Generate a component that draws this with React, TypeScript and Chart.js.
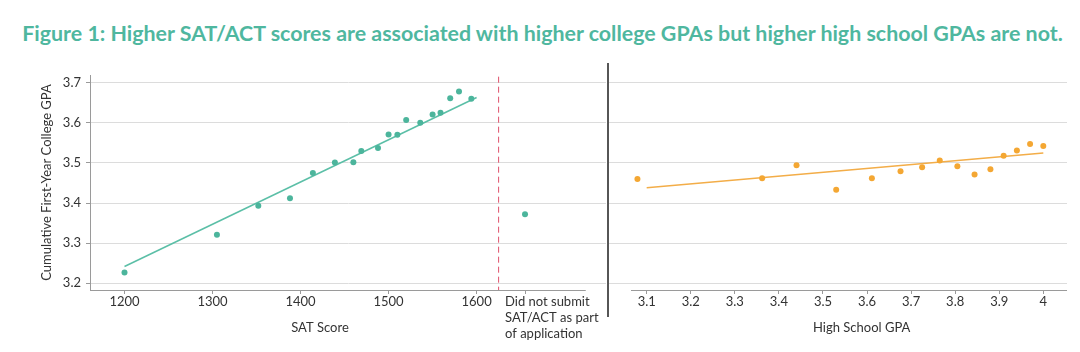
import React, { useEffect, useRef } from "react";
import { Chart, registerables } from "chart.js";

Chart.register(...registerables);

// ---------- data ----------
const satScores = [1200, 1305, 1352, 1388, 1414, 1439, 1460, 1469, 1488, 1500, 1510, 1520, 1536, 1550, 1559, 1570, 1580, 1594];
const satCollegeGpa = [3.227, 3.321, 3.393, 3.412, 3.475, 3.501, 3.502, 3.530, 3.537, 3.571, 3.570, 3.607, 3.600, 3.621, 3.625, 3.661, 3.678, 3.660];
const satTrendX = [1200, 1600];
const satTrendY = [3.242, 3.663];
const noSubmitX = 1655;
const noSubmitGpa = 3.372;
const dividerSat = 1625;
const satTicks = [1200, 1300, 1400, 1500, 1600];
const noSubmitLabel = ["Did not submit", "SAT/ACT as part", "of application"];

const hsGpa = [3.079, 3.362, 3.440, 3.530, 3.611, 3.676, 3.725, 3.765, 3.805, 3.844, 3.880, 3.910, 3.940, 3.970, 4.000];
const hsCollegeGpa = [3.460, 3.462, 3.494, 3.433, 3.462, 3.479, 3.489, 3.506, 3.492, 3.471, 3.484, 3.518, 3.531, 3.547, 3.542];
const hsTrendX = [3.1, 4.0];
const hsTrendY = [3.438, 3.525];
const hsTicks = [3.1, 3.2, 3.3, 3.4, 3.5, 3.6, 3.7, 3.8, 3.9, 4.0];
const gpaTicks = [3.2, 3.3, 3.4, 3.5, 3.6, 3.7];

const titleText = "Figure 1: Higher SAT/ACT scores are associated with higher college GPAs but higher high school GPAs are not.";
const yTitle = "Cumulative First-Year College GPA";
const satTitle = "SAT Score";
const hsTitle = "High School GPA";

// ---------- styles ----------
const FONT = "Lato, 'Open Sans', sans-serif";
const FS = 13;
const TEAL = "#4cb59c";
const TEAL_LINE = "#5bbfa7";
const ORANGE = "#f4a733";
const ORANGE_LINE = "#f3ad48";
const RED = "#e0506a";
const GRID = "#dcdcdc";
const AXIS = "#9a9a9a";
const TEXT = "#333333";
const Y_MIN = 3.1833;
const Y_MAX = 3.7192;

const yScaleBase = {
  type: "linear" as const,
  min: Y_MIN,
  max: Y_MAX,
  afterBuildTicks: (ax: any) => {
    ax.ticks = gpaTicks.map((v) => ({ value: v }));
  },
};

function makeLeft(canvas: HTMLCanvasElement) {
  const leftPlugin = {
    id: "leftExtras",
    afterDraw(chart: any) {
      const { ctx, chartArea, scales } = chart;
      const x = scales.x;
      ctx.save();
      // x axis line
      ctx.strokeStyle = AXIS;
      ctx.lineWidth = 1;
      ctx.beginPath();
      ctx.moveTo(chartArea.left, chartArea.bottom + 0.5);
      ctx.lineTo(x.getPixelForValue(1724), chartArea.bottom + 0.5);
      ctx.stroke();
      // no-submit label
      ctx.fillStyle = TEXT;
      ctx.font = `${FS}px ${FONT}`;
      ctx.textAlign = "left";
      ctx.textBaseline = "middle";
      const lx = x.getPixelForValue(noSubmitX) - 20;
      noSubmitLabel.forEach((t, i) => ctx.fillText(t, lx, 302 + i * 16));
      // x title
      ctx.textAlign = "center";
      ctx.fillText(satTitle, 320, 328);
      ctx.restore();
    },
  };

  return new Chart(canvas, {
    type: "scatter",
    data: {
      datasets: [
        {
          label: "SAT",
          data: satScores.map((s, i) => ({ x: s, y: satCollegeGpa[i] })),
          backgroundColor: TEAL,
          borderColor: TEAL,
          pointRadius: 3,
          borderWidth: 0,
          order: 0,
        },
        {
          label: "No submit",
          data: [{ x: noSubmitX, y: noSubmitGpa }],
          backgroundColor: TEAL,
          borderColor: TEAL,
          pointRadius: 3,
          borderWidth: 0,
          order: 0,
        },
        {
          label: "Trend",
          data: satTrendX.map((s, i) => ({ x: s, y: satTrendY[i] })),
          showLine: true,
          borderColor: TEAL_LINE,
          borderWidth: 1.5,
          pointRadius: 0,
          order: 1,
        },
        {
          label: "Divider",
          data: [
            { x: dividerSat, y: 3.715 },
            { x: dividerSat, y: 3.181 },
          ],
          showLine: true,
          borderColor: RED,
          borderWidth: 1,
          borderDash: [6, 4],
          pointRadius: 0,
          clip: false,
          order: 2,
        },
      ],
    },
    options: {
      animation: false,
      responsive: false,
      maintainAspectRatio: false,
      layout: { padding: { top: 75, right: 4, left: 0, bottom: 0 } },
      plugins: { legend: { display: false }, tooltip: { enabled: false } },
      scales: {
        x: {
          type: "linear",
          min: 1160.8,
          max: 1747,
          afterBuildTicks: (ax: any) => {
            ax.ticks = [...satTicks, noSubmitX].map((v) => ({ value: v }));
          },
          afterFit: (s: any) => {
            s.height = 62;
          },
          ticks: {
            callback: (v: any) => (v === noSubmitX ? "" : String(v)),
            font: { family: FONT, size: FS },
            color: TEXT,
            padding: 0,
            maxRotation: 0,
            autoSkip: false,
          },
          grid: { drawOnChartArea: false, drawTicks: true, tickLength: 4, tickColor: AXIS },
          border: { display: false },
        },
        y: {
          ...yScaleBase,
          afterFit: (s: any) => {
            s.width = 90;
          },
          ticks: {
            callback: (v: any) => Number(v).toFixed(1),
            font: { family: FONT, size: FS },
            color: TEXT,
            padding: 5,
          },
          grid: { color: GRID, lineWidth: 1, tickColor: AXIS, tickLength: 4 },
          border: { display: true, color: AXIS, width: 1 },
          title: {
            display: true,
            text: yTitle,
            font: { family: FONT, size: FS },
            color: TEXT,
            padding: { top: 39, bottom: 0 },
          },
        },
      },
    },
    plugins: [leftPlugin],
  } as any);
}

function makeRight(canvas: HTMLCanvasElement) {
  const rightPlugin = {
    id: "rightExtras",
    afterDraw(chart: any) {
      const { ctx, chartArea, scales } = chart;
      const x = scales.x;
      ctx.save();
      ctx.strokeStyle = AXIS;
      ctx.lineWidth = 1;
      ctx.beginPath();
      ctx.moveTo(x.getPixelForValue(3.0644), chartArea.bottom + 0.5);
      ctx.lineTo(chartArea.right, chartArea.bottom + 0.5);
      ctx.stroke();
      // black separator
      ctx.strokeStyle = "#1e1e1e";
      ctx.lineWidth = 1.5;
      ctx.beginPath();
      ctx.moveTo(chartArea.left - 1, 63);
      ctx.lineTo(chartArea.left - 1, 317);
      ctx.stroke();
      // x title
      ctx.fillStyle = TEXT;
      ctx.font = `${FS}px ${FONT}`;
      ctx.textAlign = "center";
      ctx.textBaseline = "middle";
      ctx.fillText(hsTitle, 261.7, 328);
      ctx.restore();
    },
  };

  return new Chart(canvas, {
    type: "scatter",
    data: {
      datasets: [
        {
          label: "HS GPA",
          data: hsGpa.map((g, i) => ({ x: g, y: hsCollegeGpa[i] })),
          backgroundColor: ORANGE,
          borderColor: ORANGE,
          pointRadius: 3,
          borderWidth: 0,
          order: 0,
        },
        {
          label: "Trend",
          data: hsTrendX.map((g, i) => ({ x: g, y: hsTrendY[i] })),
          showLine: true,
          borderColor: ORANGE_LINE,
          borderWidth: 1.5,
          pointRadius: 0,
          order: 1,
        },
      ],
    },
    options: {
      animation: false,
      responsive: false,
      maintainAspectRatio: false,
      layout: { padding: { top: 75, right: 13, left: 0, bottom: 0 } },
      plugins: { legend: { display: false }, tooltip: { enabled: false } },
      scales: {
        x: {
          type: "linear",
          min: 3.01445,
          max: 4.05378,
          afterBuildTicks: (ax: any) => {
            ax.ticks = hsTicks.map((v) => ({ value: v }));
          },
          afterFit: (s: any) => {
            s.height = 62;
          },
          ticks: {
            callback: (v: any) => String(Number(Number(v).toFixed(1))),
            font: { family: FONT, size: FS },
            color: TEXT,
            padding: 0,
            maxRotation: 0,
            autoSkip: false,
          },
          grid: { drawOnChartArea: false, drawTicks: true, tickLength: 4, tickColor: AXIS },
          border: { display: false },
        },
        y: {
          ...yScaleBase,
          afterFit: (s: any) => {
            s.width = 9;
          },
          ticks: { display: false },
          grid: { color: GRID, lineWidth: 1, drawTicks: false },
          border: { display: false },
        },
      },
    },
    plugins: [rightPlugin],
  } as any);
}

export default function App() {
  const leftRef = useRef<HTMLCanvasElement>(null);
  const rightRef = useRef<HTMLCanvasElement>(null);

  useEffect(() => {
    const l = makeLeft(leftRef.current!);
    const r = makeRight(rightRef.current!);
    return () => {
      l.destroy();
      r.destroy();
    };
  }, []);

  return (
    <div
      style={{
        position: "fixed",
        left: 0,
        top: 0,
        width: 1080,
        height: 352,
        background: "#ffffff",
        overflow: "hidden",
      }}
    >
      <div
        style={{
          position: "absolute",
          left: 0,
          top: 20,
          width: 1085,
          textAlign: "center",
          fontFamily: FONT,
          fontWeight: 700,
          fontSize: 21.4,
          lineHeight: "26px",
          color: "#4fb79f",
          whiteSpace: "nowrap",
        }}
      >
        {titleText}
      </div>
      <canvas
        ref={leftRef}
        width={610}
        height={352}
        style={{ position: "absolute", left: 0, top: 0, width: 610, height: 352 }}
      />
      <canvas
        ref={rightRef}
        width={480}
        height={352}
        style={{ position: "absolute", left: 600, top: 0, width: 480, height: 352 }}
      />
    </div>
  );
}
